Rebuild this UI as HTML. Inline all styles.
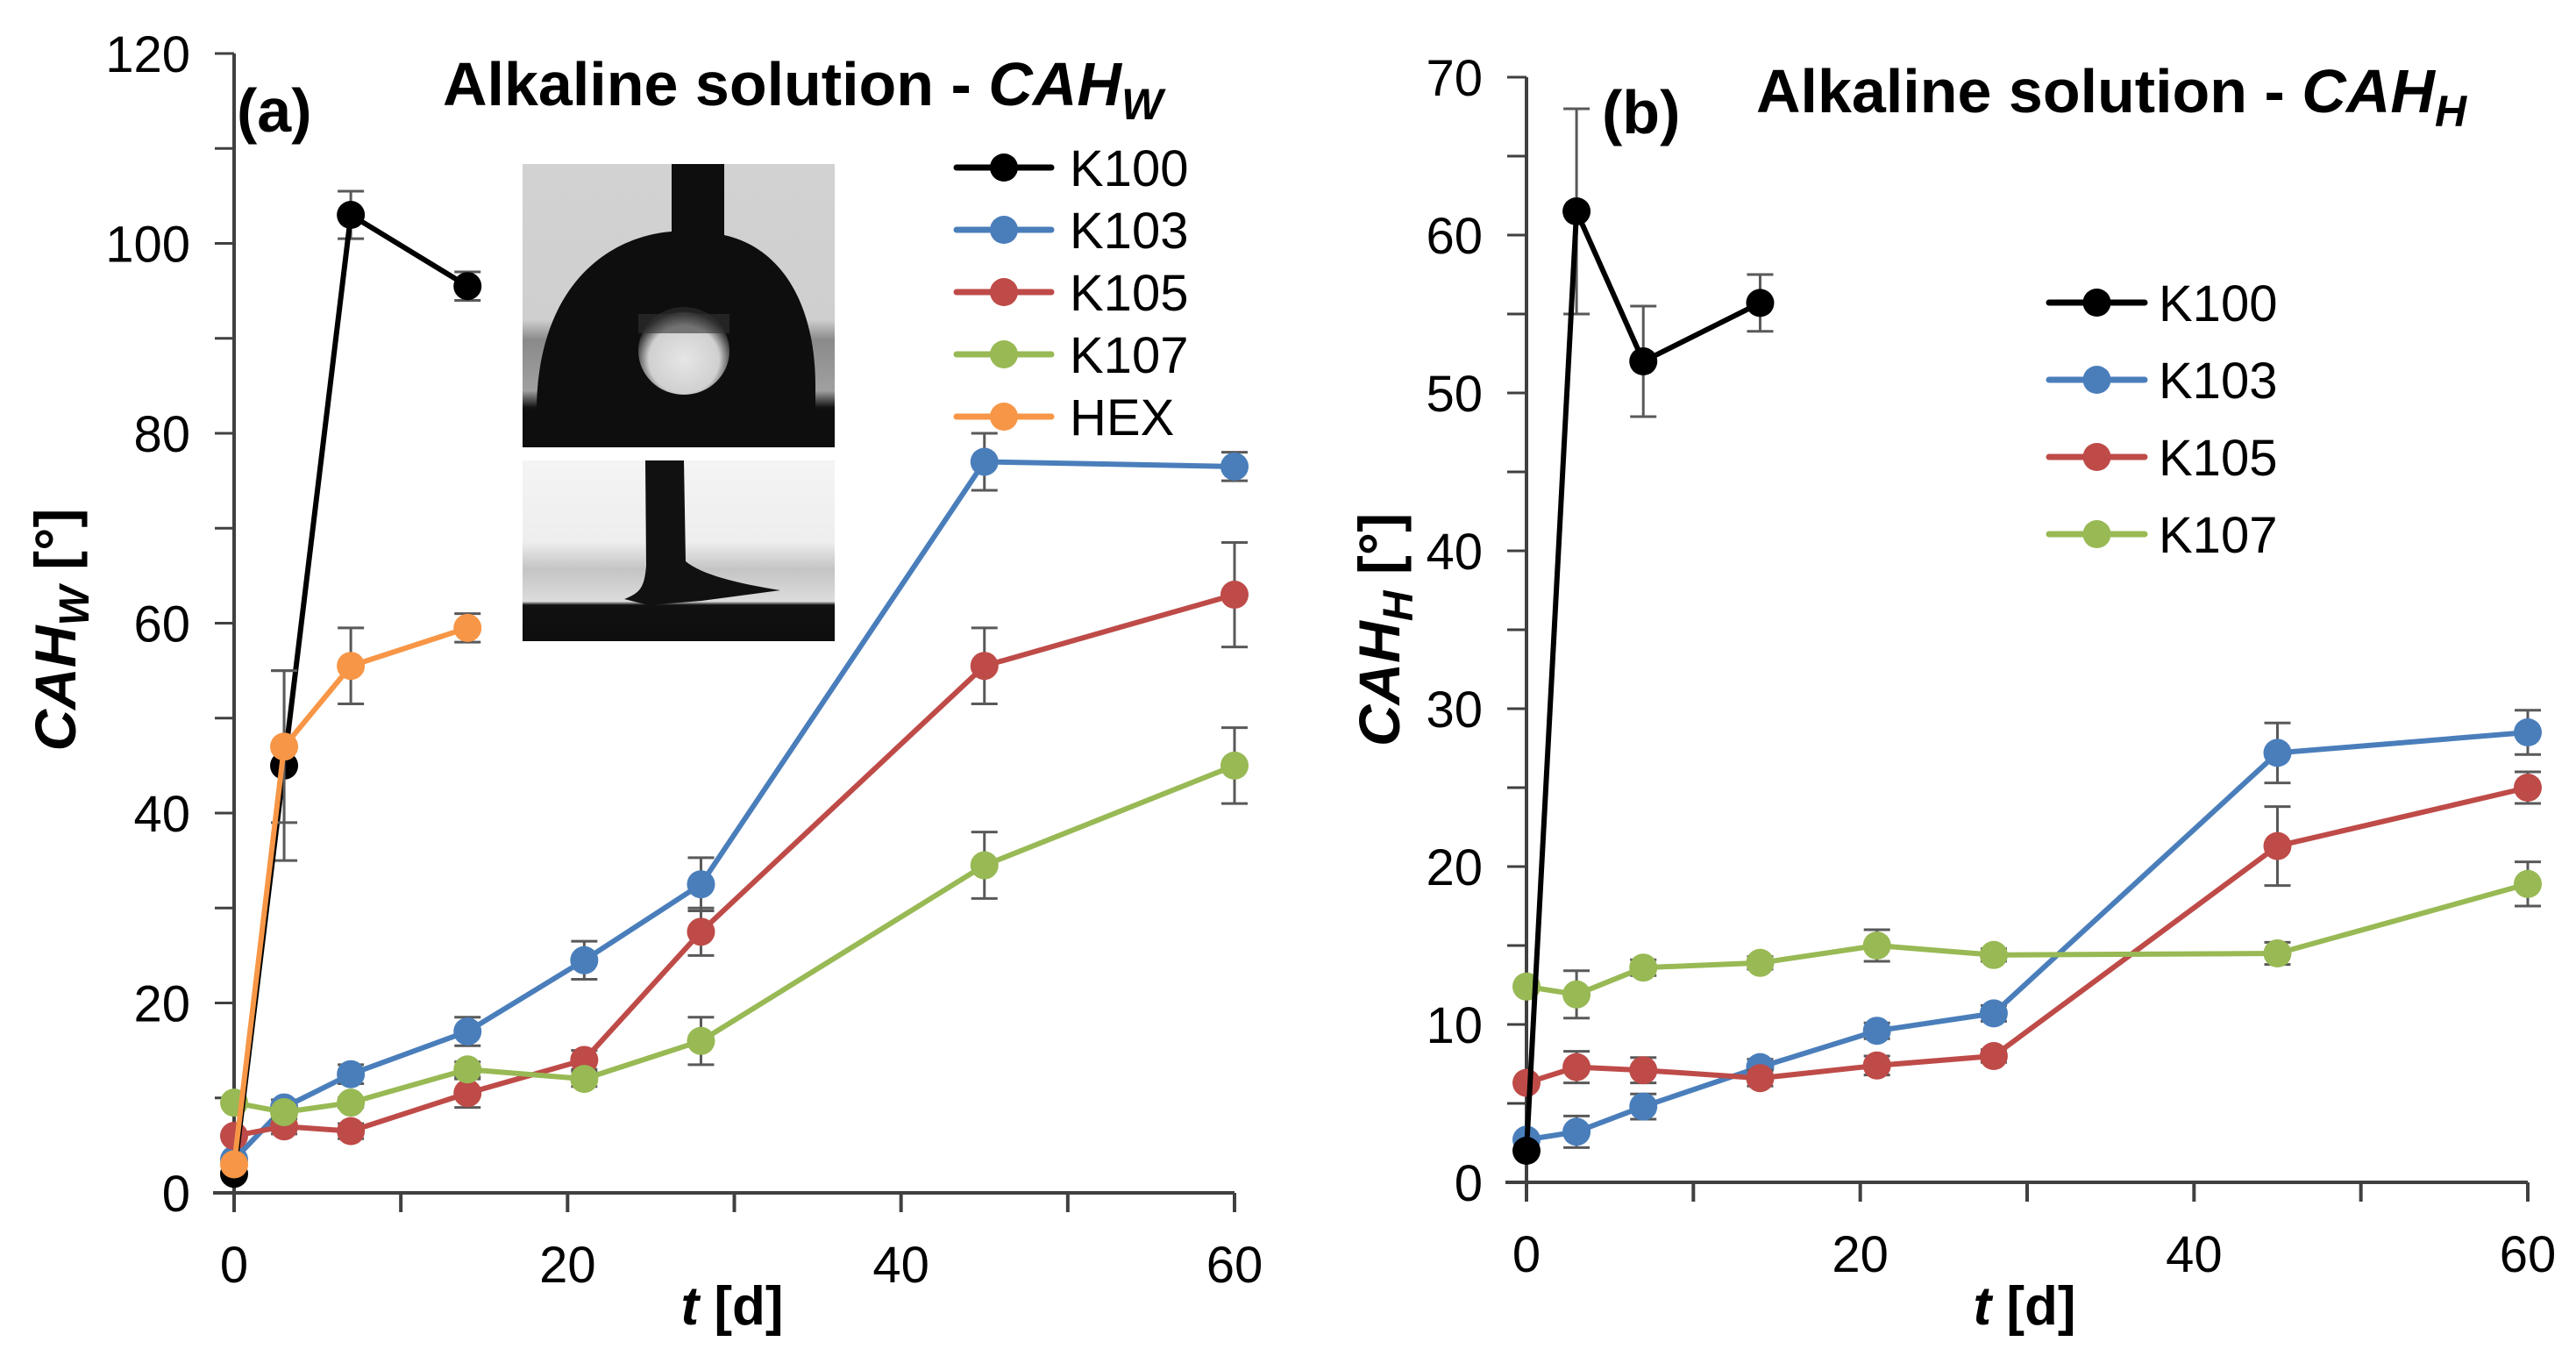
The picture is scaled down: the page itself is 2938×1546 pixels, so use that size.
<!DOCTYPE html>
<html><head><meta charset="utf-8">
<style>
html,body{margin:0;padding:0;background:#fff;}
svg{display:block;}
text{font-family:"Liberation Sans",Arial,sans-serif;fill:#000;}
</style></head>
<body>
<svg id="chart" width="2938" height="1546" viewBox="0 0 2938 1546" xmlns="http://www.w3.org/2000/svg">
<defs>
<linearGradient id="bg1" x1="0" y1="0" x2="0" y2="1">
<stop offset="0" stop-color="#d2d2d2"/><stop offset="0.55" stop-color="#cfcfcf"/><stop offset="0.62" stop-color="#8a8a8a"/><stop offset="0.8" stop-color="#a0a0a0"/><stop offset="0.86" stop-color="#111"/><stop offset="1" stop-color="#0e0e0e"/>
</linearGradient>
<linearGradient id="bg2" x1="0" y1="0" x2="0" y2="1">
<stop offset="0" stop-color="#f4f4f4"/><stop offset="0.45" stop-color="#eeeeee"/><stop offset="0.6" stop-color="#c4c4c4"/><stop offset="0.78" stop-color="#dcdcdc"/><stop offset="0.8" stop-color="#111"/><stop offset="1" stop-color="#0e0e0e"/>
</linearGradient>
<radialGradient id="spot" cx="0.5" cy="0.6" r="0.55">
<stop offset="0" stop-color="#e6e6e6"/><stop offset="0.7" stop-color="#d0d0d0"/><stop offset="1" stop-color="#222"/>
</radialGradient>
</defs>
<g id="panelA"></g>
<g id="panelB"></g>
<g>
  <g>
    <rect x="596" y="187" width="356" height="323" fill="url(#bg1)"/>
    <path d="M612 470 C612 330 690 270 766 264 L766 187 L826 187 L826 268 C890 282 930 345 930 440 L930 470 Z" fill="#0e0e0e"/>
    <rect x="596" y="468" width="356" height="42" fill="#0e0e0e"/>
    <ellipse cx="780" cy="400" rx="52" ry="50" fill="url(#spot)"/>
    <rect x="728" y="358" width="104" height="22" fill="#333" opacity="0.6"/>
  </g>
  <g>
    <rect x="596" y="525" width="356" height="206" fill="url(#bg2)"/>
    <path d="M736 525 L780 525 L782 640 C800 655 840 665 890 673 L800 685 L740 690 L712 683 C730 676 735 670 737 645 Z" fill="#111"/>
  </g>
</g>
</svg>
<script>
// ---------- Panel A data ----------
const daysA = [0, 3, 7, 14, 21, 28, 45, 60];
const k100A = [2, 45, 103, 95.5];
const k100AErr = [0, 10, 2.5, 1.5];
const k103A = [3.5, 9, 12.5, 17, 24.5, 32.5, 77, 76.5];
const k103AErr = [0, 0.8, 1, 1.5, 2, 2.8, 3, 1.5];
const k105A = [6, 7, 6.5, 10.5, 14, 27.5, 55.5, 63];
const k105AErr = [0, 0.8, 0.8, 1.5, 1, 2.5, 4, 5.5];
const k107A = [9.5, 8.5, 9.5, 13, 12, 16, 34.5, 45];
const k107AErr = [0, 0.5, 0.5, 0.8, 0.8, 2.5, 3.5, 4];
const hexA = [3, 47, 55.5, 59.5];
const hexAErr = [0, 8, 4, 1.5];
const yTicksA = [0, 20, 40, 60, 80, 100, 120];
// ---------- Panel B data ----------
const daysB = [0, 3, 7, 14, 21, 28, 45, 60];
const k100B = [2, 61.5, 52, 55.7];
const k100BErr = [0, 6.5, 3.5, 1.8];
const k103B = [2.7, 3.2, 4.8, 7.3, 9.6, 10.7, 27.2, 28.5];
const k103BErr = [0, 1, 0.8, 0.5, 0.5, 0.5, 1.9, 1.4];
const k105B = [6.3, 7.3, 7.1, 6.6, 7.4, 8, 21.3, 25];
const k105BErr = [0, 1, 0.8, 0.5, 0.6, 0.4, 2.5, 1];
const k107B = [12.4, 11.9, 13.6, 13.9, 15, 14.4, 14.5, 18.9];
const k107BErr = [0, 1.5, 0.5, 0.4, 1, 0.4, 0.7, 1.4];
const yTicksB = [0, 10, 20, 30, 40, 50, 60, 70];
const xTicks = [0, 20, 40, 60];

const NS = "http://www.w3.org/2000/svg";
function mk(parent, tag, attrs, txt) {
  const e = document.createElementNS(NS, tag);
  for (const k in attrs) e.setAttribute(k, attrs[k]);
  if (txt !== undefined) e.textContent = txt;
  parent.appendChild(e);
  return e;
}
const COL = {k100: "#000000", k103: "#4a7ebb", k105: "#be4b48", k107: "#98b954", hex: "#f79646"};

function drawPanel(g, cfg) {
  const xS = v => cfg.x0 + (v / 60) * (cfg.x60 - cfg.x0);
  const yS = v => cfg.y0 - (v / cfg.ymax) * (cfg.y0 - cfg.ytop);
  const ax = mk(g, "g", {});
  
  
  mk(ax, "line", {x1: cfg.x0, y1: cfg.ytop, x2: cfg.x0, y2: cfg.y0, stroke: "#404040", "stroke-width": 4});
  mk(ax, "line", {x1: cfg.x0 - 24, y1: cfg.y0, x2: cfg.x60, y2: cfg.y0, stroke: "#404040", "stroke-width": 4});
  for (let v = 0; v <= cfg.ymax; v += cfg.minor) {
    mk(ax, "line", {x1: cfg.x0 - 22, y1: yS(v), x2: cfg.x0, y2: yS(v), stroke: "#404040", "stroke-width": 3});
  }
  for (let v = 0; v <= 60; v += 10) {
    mk(ax, "line", {x1: xS(v), y1: cfg.y0, x2: xS(v), y2: cfg.y0 + 22, stroke: "#404040", "stroke-width": 4});
  }
  cfg.yTicks.forEach(v => {
    const t = mk(ax, "text", {x: cfg.x0 - 50, y: yS(v) + 21, "text-anchor": "end", "font-size": 58}, String(v));
    
    
  });
  xTicks.forEach(v => {
    const t = mk(ax, "text", {x: xS(v), y: cfg.y0 + 102, "text-anchor": "middle", "font-size": 58}, String(v));
    
    
  });
  cfg.series.forEach(s => {
    const sg = mk(g, "g", {});
    
    
    s.vals.forEach((v, i) => {
      const e = s.err[i];
      if (e > 0) {
        const eb = mk(sg, "path", {d: `M${xS(cfg.days[i])} ${yS(v - e)}V${yS(v + e)}M${xS(cfg.days[i]) - 15} ${yS(v + e)}h30M${xS(cfg.days[i]) - 15} ${yS(v - e)}h30`, stroke: "#595959", "stroke-width": 3, fill: "none"});
        
        
      }
    });
    const pts = s.vals.map((v, i) => xS(cfg.days[i]) + "," + yS(v)).join(" ");
    const pl = mk(sg, "polyline", {points: pts, fill: "none", stroke: s.color, "stroke-width": 6, "stroke-linejoin": "round"});
    
    
    s.vals.forEach((v, i) => {
      const c = mk(sg, "circle", {cx: xS(cfg.days[i]), cy: yS(v), r: 16, fill: s.color});
      
      
    });
  });
  const lg = mk(g, "g", {});
  
  
  cfg.legendOrder.forEach((s, i) => {
    const y = cfg.leg.y + i * cfg.leg.dy;
    const en = mk(lg, "g", {});
    
    
    mk(en, "line", {x1: cfg.leg.x1, y1: y, x2: cfg.leg.x2, y2: y, stroke: s.color, "stroke-width": 7, "stroke-linecap": "round"});
    mk(en, "circle", {cx: (cfg.leg.x1 + cfg.leg.x2) / 2, cy: y, r: 16, fill: s.color});
    mk(en, "text", {x: cfg.leg.tx, y: y + 21, "font-size": 58}, s.name);
  });
}

const gA = document.getElementById("panelA");
const sA = [
  {name: "K103", vals: k103A, err: k103AErr, color: COL.k103},
  {name: "K105", vals: k105A, err: k105AErr, color: COL.k105},
  {name: "K107", vals: k107A, err: k107AErr, color: COL.k107},
  {name: "K100", vals: k100A, err: k100AErr, color: COL.k100},
  {name: "HEX", vals: hexA, err: hexAErr, color: COL.hex}
];
drawPanel(gA, {x0: 267, x60: 1408, y0: 1360, ytop: 61, ymax: 120, minor: 10, yTicks: yTicksA, days: daysA,
  series: sA, legendOrder: [sA[3], sA[0], sA[1], sA[2], sA[4]],
  leg: {x1: 1091, x2: 1199, tx: 1220, y: 191, dy: 71}});

const gB = document.getElementById("panelB");
const sB = [
  {name: "K103", vals: k103B, err: k103BErr, color: COL.k103},
  {name: "K105", vals: k105B, err: k105BErr, color: COL.k105},
  {name: "K107", vals: k107B, err: k107BErr, color: COL.k107},
  {name: "K100", vals: k100B, err: k100BErr, color: COL.k100}
];
drawPanel(gB, {x0: 1741, x60: 2883, y0: 1348, ytop: 88, ymax: 70, minor: 5, yTicks: yTicksB, days: daysB,
  series: sB, legendOrder: [sB[3], sB[0], sB[1], sB[2]],
  leg: {x1: 2337, x2: 2446, tx: 2462, y: 345, dy: 88}});
</script>
<div style="position:absolute;left:0;top:0;width:2938px;height:1546px;pointer-events:none;">
<svg width="2938" height="1546" xmlns="http://www.w3.org/2000/svg">
  <text x="270" y="150" font-size="70" font-weight="bold">(a)</text>
  <text x="505" y="120" font-size="70" font-weight="bold">Alkaline solution - <tspan font-style="italic">CAH</tspan><tspan font-style="italic" font-size="50" dy="16">W</tspan></text>
  <text x="1827" y="152" font-size="70" font-weight="bold">(b)</text>
  <text x="2003" y="128" font-size="70" font-weight="bold">Alkaline solution - <tspan font-style="italic">CAH</tspan><tspan font-style="italic" font-size="50" dy="16">H</tspan></text>
  <text transform="translate(86,718) rotate(-90)" text-anchor="middle" font-size="66" font-weight="bold"><tspan font-style="italic">CAH</tspan><tspan font-style="italic" font-size="48" dy="15">W</tspan><tspan dy="-15"> [°]</tspan></text>
  <text transform="translate(1596,718) rotate(-90)" text-anchor="middle" font-size="66" font-weight="bold"><tspan font-style="italic">CAH</tspan><tspan font-style="italic" font-size="48" dy="15">H</tspan><tspan dy="-15"> [°]</tspan></text>
  <text x="835" y="1510" text-anchor="middle" font-size="62" font-weight="bold"><tspan font-style="italic">t</tspan> [d]</text>
  <text x="2309" y="1510" text-anchor="middle" font-size="62" font-weight="bold"><tspan font-style="italic">t</tspan> [d]</text>
</svg>
</div>
</body></html>
